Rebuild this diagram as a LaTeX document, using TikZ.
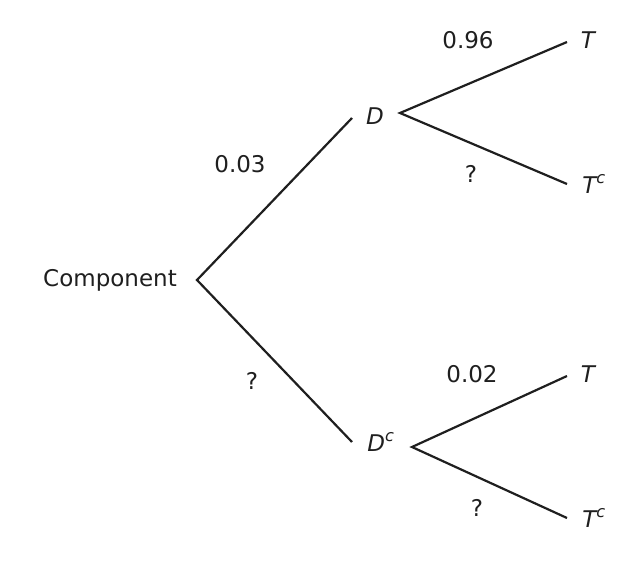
\documentclass[tikz,border=0pt]{standalone}
\usepackage{fontspec}
\setmainfont{DejaVu Sans}
\begin{document}
\begin{tikzpicture}[x=1pt,y=-1pt,
  lbl/.style={font=\fontsize{23}{28}\selectfont, text=black!88, inner sep=0pt},
  ev/.style={lbl, font=\fontsize{23}{28}\selectfont\itshape},
  br/.style={line width=2.2pt, draw=black!88}]
\useasboundingbox (0,0) rectangle (643,562);
\node[lbl] (comp) at (110,280) {Component};
\node[ev] (D) at (375,116) {D};
\node[ev] (Dc) at (381,442) {D\textsuperscript{c}};
\node[ev] (T1) at (588,40) {T};
\node[ev] (T1c) at (594,184) {T\textsuperscript{c}};
\node[ev] (T2) at (588,374) {T};
\node[ev] (T2c) at (594,518) {T\textsuperscript{c}};
\node[lbl] (p1) at (240,164) {0.03};
\node[lbl] (p2) at (252,381) {?};
\node[lbl] (p3) at (468,40) {0.96};
\node[lbl] (p4) at (471,174) {?};
\node[lbl] (p5) at (472,374) {0.02};
\node[lbl] (p6) at (477,508) {?};
\coordinate (c0) at (197,280);
\coordinate (dI) at (352,118);
\coordinate (dO) at (400,113);
\coordinate (dcI) at (352,442);
\coordinate (dcO) at (412,447);
\coordinate (t1) at (567,42);
\coordinate (t1c) at (567,184);
\coordinate (t2) at (567,376);
\coordinate (t2c) at (567,518);
\draw[br] (dI) -- (c0) -- (dcI);
\draw[br] (t1) -- (dO) -- (t1c);
\draw[br] (t2) -- (dcO) -- (t2c);
\end{tikzpicture}
\end{document}
